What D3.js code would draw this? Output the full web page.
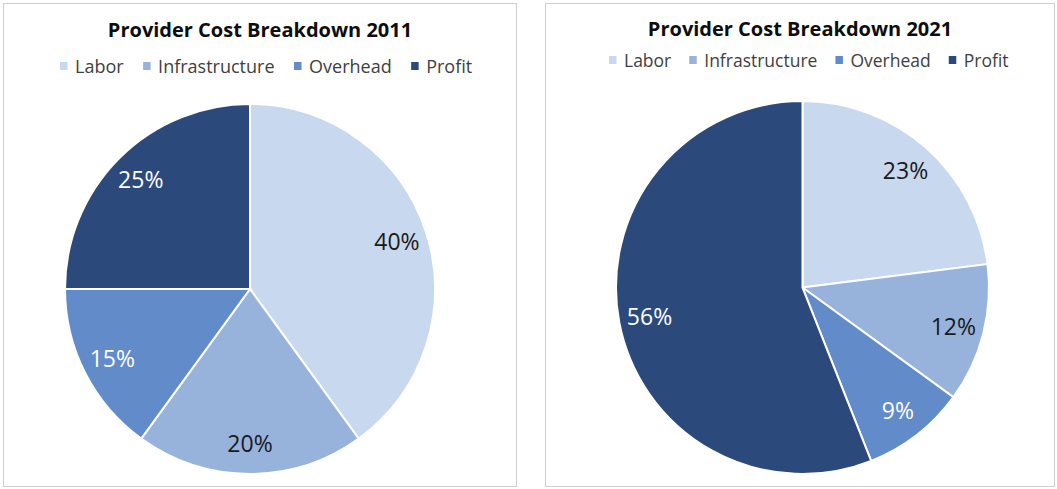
<!DOCTYPE html>
<html>
<head>
<meta charset="utf-8">
<script src="https://cdn.jsdelivr.net/npm/d3@7"></script>
<style>
  body { margin: 0; background: #fff; }
  text { font-family: "Open Sans", sans-serif; }
</style>
</head>
<body>
<script>
var categories = ["Labor", "Infrastructure", "Overhead", "Profit"];
var values2011 = [40, 20, 15, 25];
var values2021 = [23, 12, 9, 56];
var colors = ["#c8d8ee", "#97b3dc", "#628bca", "#2b4a7b"];
var labelColors = ["#1a1a1a", "#1a1a1a", "#ffffff", "#ffffff"];

var width = 1057, height = 489;

var svg = d3.select("body").append("svg")
    .attr("width", width)
    .attr("height", height);

var panels = [
  {title: "Provider Cost Breakdown 2011", values: values2011,
   x0: 3.5, x1: 516.5, titleY: 37, legendY: 73, legendX: 60, legendFont: 18, legendGap: 19.5,
   cx: 250, cy: 289, r: 185},
  {title: "Provider Cost Breakdown 2021", values: values2021,
   x0: 545.5, x1: 1054.5, titleY: 36, legendY: 67, legendX: 609, legendFont: 17.5, legendGap: 18,
   cx: 802.5, cy: 287.5, r: 186.5}
];

var color = d3.scaleOrdinal().domain(categories).range(colors);

panels.forEach(function(p){
    var g = svg.append("g");

    g.append("rect")
        .attr("x", p.x0).attr("y", 3.5)
        .attr("width", p.x1 - p.x0).attr("height", 483)
        .attr("fill", "#fff")
        .attr("stroke", "#cfcfcf");

    var mid = (p.x0 + p.x1) / 2;

    g.append("text")
        .attr("x", mid).attr("y", p.titleY)
        .attr("text-anchor", "middle")
        .attr("font-size", 20)
        .attr("font-weight", "bold")
        .attr("fill", "#0d0d0d")
        .text(p.title);

    // legend
    var leg = g.append("g").attr("transform", "translate(" + p.legendX + ",0)");
    var xpos = 0;
    categories.forEach(function(c, i){
        leg.append("rect")
            .attr("x", xpos).attr("y", p.legendY - 11)
            .attr("width", 7.5).attr("height", 8)
            .attr("fill", color(c));
        var t = leg.append("text")
            .attr("x", xpos + 15).attr("y", p.legendY)
            .attr("font-size", p.legendFont)
            .attr("fill", "#404040")
            .text(c);
        xpos += 15 + t.node().getComputedTextLength() + p.legendGap;
    });

    var pie = d3.pie().sort(null).value(function(d){ return d; });
    var arcs = pie(p.values);
    var arc = d3.arc().innerRadius(0).outerRadius(p.r);
    var labelArc = d3.arc().innerRadius(p.r * 0.835).outerRadius(p.r * 0.835);

    var pg = g.append("g").attr("transform", "translate(" + p.cx + "," + p.cy + ")");

    pg.selectAll("path")
        .data(arcs)
        .enter().append("path")
        .attr("d", arc)
        .attr("fill", function(d, i){ return color(categories[i]); })
        .attr("stroke", "#fff")
        .attr("stroke-width", 2);

    pg.selectAll("text.lbl")
        .data(arcs)
        .enter().append("text")
        .attr("class", "lbl")
        .attr("transform", function(d){ return "translate(" + labelArc.centroid(d) + ")"; })
        .attr("text-anchor", "middle")
        .attr("dy", "0.36em")
        .attr("font-size", 23)
        .attr("fill", function(d, i){ return labelColors[i]; })
        .text(function(d){ return d.value + "%"; });
});
</script>
</body>
</html>
